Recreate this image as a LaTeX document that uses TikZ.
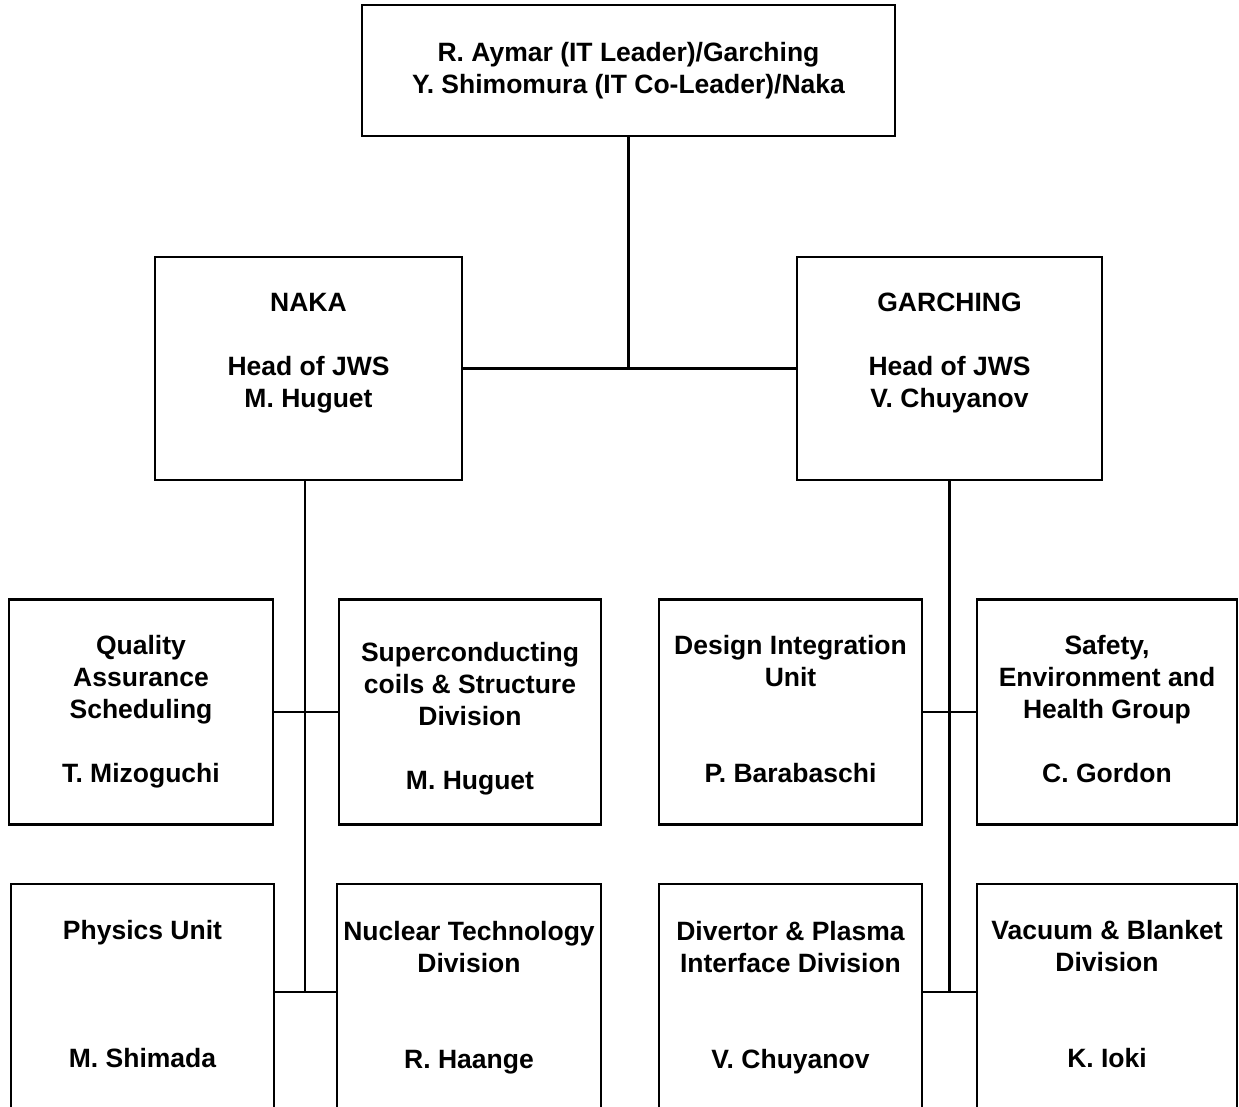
\documentclass[tikz,border=0pt]{standalone}
\usepackage{fontspec}
\setmainfont{Liberation Sans}
\usepackage{tikz}
\usetikzlibrary{positioning}
\tikzset{
  unit/.style={draw=black,line width=2.2pt,fill=white,inner sep=0pt},
  rowbox/.style={unit,minimum width=263pt,minimum height=225pt},
  lowbox/.style={unit,minimum width=263pt,minimum height=246pt},
  unittext/.style={inner sep=0pt,anchor=north,align=center,
    font=\fontsize{26.5}{32}\selectfont\bfseries},
  link/.style={line width=2.2pt,black}
}

\begin{document}
\begin{tikzpicture}[x=1pt,y=-1pt]
  \useasboundingbox (0,0) rectangle (1239,1107);
  \clip (0,0) rectangle (1239,1107);
  % leaders
  \node[unit,minimum width=533pt,minimum height=131pt,align=center,
    font=\fontsize{26.5}{32}\selectfont\bfseries] (top) at (628.5,70.5)
    {R. Aymar (IT Leader)/Garching\\Y. Shimomura (IT Co-Leader)/Naka};
  \node[unit,minimum width=307pt,minimum height=223pt] (naka) at (308.5,368.5) {};
  \node[unit,minimum width=305pt,minimum height=223pt] (garch) at (949.5,368.5) {};
  \node[unittext,below=37pt of naka.north] (nakatxt) {NAKA\\[32pt]Head of JWS\\M. Huguet};
  \node[unittext,below=37pt of garch.north] (garchtxt) {GARCHING\\[32pt]Head of JWS\\V. Chuyanov};
  % divisions, first row
  \node[rowbox,minimum width=264pt] (qa) at (141,712) {};
  \node[rowbox,minimum width=262pt] (sc) at (470,712) {};
  \node[rowbox] (di) at (790.5,712) {};
  \node[rowbox,minimum width=260pt] (seh) at (1107,712) {};
  \node[unittext,below=37pt of qa.north] (qatxt) {Quality\\Assurance\\Scheduling\\[32pt]T. Mizoguchi};
  \node[unittext,below=44pt of sc.north] (sctxt) {Superconducting\\coils \& Structure\\Division\\[32pt]M. Huguet};
  \node[unittext,below=37pt of di.north] (ditxt) {Design Integration\\Unit\\[64pt]P. Barabaschi};
  \node[unittext,below=37pt of seh.north] (sehtxt) {Safety,\\Environment and\\Health Group\\[32pt]C. Gordon};
  % divisions, second row
  \node[lowbox] (phys) at (142.5,1007) {};
  \node[lowbox,minimum width=264pt] (nt) at (469,1007) {};
  \node[lowbox] (dp) at (790.5,1007) {};
  \node[lowbox,minimum width=260pt] (vb) at (1107,1007) {};
  \node[unittext,below=37pt of phys.north] (phystxt) {Physics Unit\\[96pt]M. Shimada};
  \node[unittext,below=38pt of nt.north] (nttxt) {Nuclear Technology\\Division\\[64pt]R. Haange};
  \node[unittext,below=38pt of dp.north] (dptxt) {Divertor \& Plasma\\Interface Division\\[64pt]V. Chuyanov};
  \node[unittext,below=37pt of vb.north] (vbtxt) {Vacuum \& Blanket\\Division\\[64pt]K. Ioki};
  % connectors
  \coordinate (jl) at (305,992);
  \coordinate (jr) at (949.5,992);
  \draw[link] (top.south) -- (top.south |- naka.east);
  \draw[link] (naka.east) -- (garch.west);
  \draw[link] (jl |- naka.south) -- (jl);
  \draw[link] (garch.south) -- (jr);
  \foreach \a/\b in {qa/sc,di/seh} {\draw[link] (\a) -- (\b);}
  \draw[link] (phys.east |- jl) -- (nt.west |- jl);
  \draw[link] (dp.east |- jr) -- (vb.west |- jr);
\end{tikzpicture}
\end{document}
